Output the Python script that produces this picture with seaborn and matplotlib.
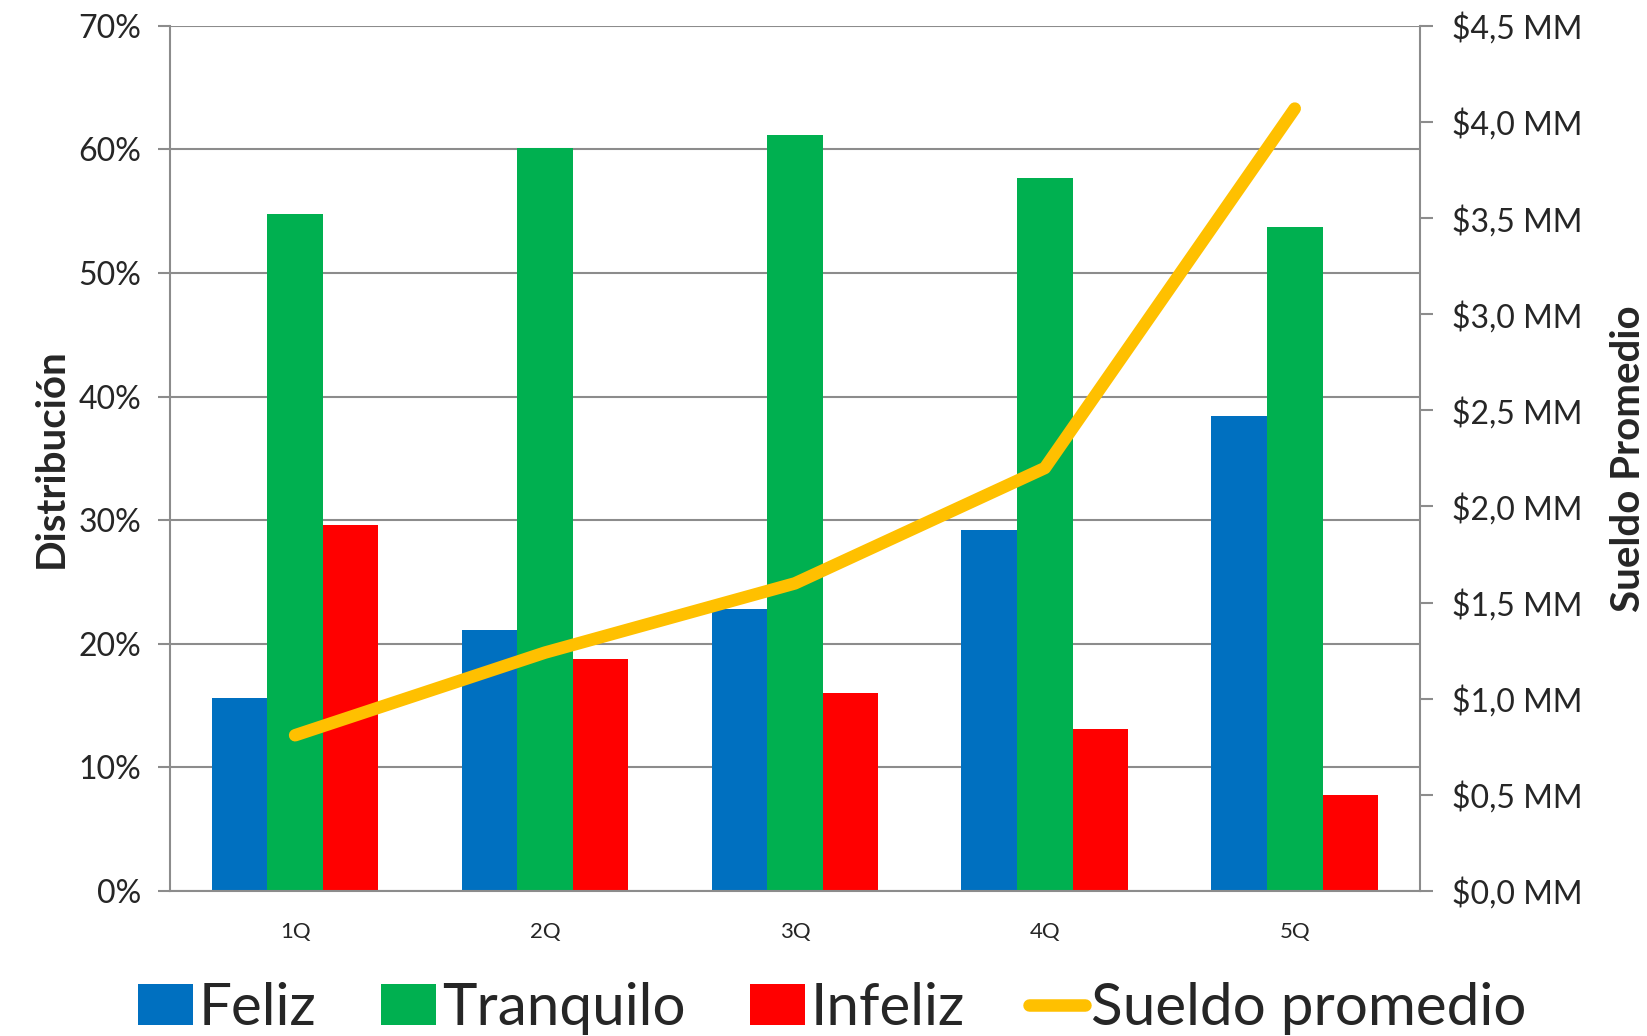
import numpy as np
import pandas as pd
import matplotlib
matplotlib.use("Agg")
import matplotlib.pyplot as plt
from matplotlib.ticker import FuncFormatter, MultipleLocator, FixedLocator
import seaborn as sns

# datos
cuartiles = ["1Q", "2Q", "3Q", "4Q", "5Q"]
feliz = [0.156, 0.211, 0.228, 0.292, 0.384]
tranquilo = [0.548, 0.601, 0.612, 0.577, 0.537]
infeliz = [0.296, 0.188, 0.160, 0.131, 0.078]
sueldo = [0.81, 1.24, 1.60, 2.20, 4.07]  # millones

grupos = ["Feliz", "Tranquilo", "Infeliz"]
colores = ["#0070C0", "#00B050", "#FF0000"]
amarillo = "#FFC000"
gris = "#8c8c8c"

df = pd.DataFrame({
    "cuartil": cuartiles * 3,
    "grupo": np.repeat(grupos, len(cuartiles)),
    "valor": feliz + tranquilo + infeliz,
})

sns.set_style("white")
plt.rcParams["font.family"] = ["Lato", "DejaVu Sans"]

fig = plt.figure(figsize=(16.47, 10.36), dpi=100)
ax = fig.add_axes([0.1033, 0.140, 0.7587, 0.835])

sns.barplot(data=df, x="cuartil", y="valor", hue="grupo", order=cuartiles,
            hue_order=grupos, palette=colores, width=0.667, saturation=1,
            linewidth=0, ax=ax)

ax.set_xlim(-0.5, len(cuartiles) - 0.5)
ax.set_ylim(0, 0.70)
ax.yaxis.set_major_locator(MultipleLocator(0.10))
ax.yaxis.set_major_formatter(FuncFormatter(lambda v, p: f"{v*100:.0f}%"))
ax.yaxis.grid(True, color=gris, lw=1.5)
ax.set_axisbelow(True)

# ticks del eje x en los bordes de cada categoria, etiquetas al centro
ax.xaxis.set_major_locator(FixedLocator(np.arange(len(cuartiles) + 1) - 0.5))
ax.xaxis.set_minor_locator(FixedLocator(np.arange(len(cuartiles))))
ax.xaxis.set_major_formatter(FuncFormatter(lambda v, p: ""))
ax.xaxis.set_minor_formatter(FuncFormatter(lambda v, p: cuartiles[int(round(v))]))
ax.tick_params(axis="x", which="major", length=9, width=1.5, color=gris, direction="out")
ax.tick_params(axis="x", which="minor", length=0, labelsize=16, pad=22)
ax.tick_params(axis="y", length=9, width=1.5, color=gris, direction="out",
               labelsize=23, pad=12)
ax.set_xlabel("")
ax.set_ylabel("Distribución", fontsize=29, fontweight="bold", labelpad=6)

for s in ["left", "bottom"]:
    ax.spines[s].set_color(gris)
    ax.spines[s].set_linewidth(1.5)
ax.spines["top"].set_visible(False)
ax.spines["right"].set_visible(False)

ax2 = ax.twinx()
sns.lineplot(x=np.arange(len(cuartiles)), y=sueldo, ax=ax2, color=amarillo,
             lw=9, solid_capstyle="round", solid_joinstyle="round",
             label="Sueldo promedio", legend=False)
ax2.set_ylim(0, 4.5)
ax2.yaxis.set_major_locator(MultipleLocator(0.5))
ax2.yaxis.set_major_formatter(
    FuncFormatter(lambda v, p: "\\$" + f"{v:.1f}".replace(".", ",") + " MM"))
ax2.tick_params(axis="y", length=9, width=1.5, color=gris, direction="out",
                labelsize=23, pad=14)
ax2.set_ylabel("Sueldo Promedio", fontsize=29, fontweight="bold", labelpad=20)
for s in ["left", "bottom", "top"]:
    ax2.spines[s].set_visible(False)
ax2.spines["right"].set_color(gris)
ax2.spines["right"].set_linewidth(1.5)

h1, l1 = ax.get_legend_handles_labels()
h2, l2 = ax2.get_legend_handles_labels()
if ax.get_legend() is not None:
    ax.get_legend().remove()
fig.legend(h1 + h2, l1 + l2, loc="lower center", bbox_to_anchor=(0.505, -0.05),
           ncol=4, frameon=False, fontsize=42, handlelength=0.95,
           handleheight=0.7, handletextpad=0.1, columnspacing=1.1)

fig.savefig("out.png", dpi=100)
